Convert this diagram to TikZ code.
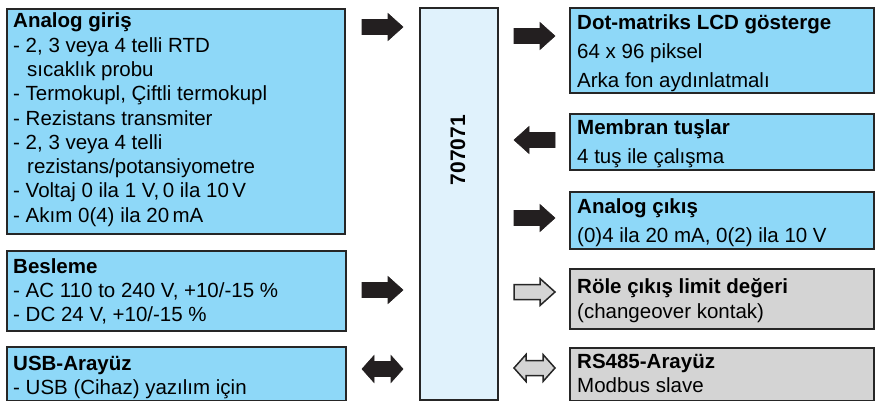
\documentclass[tikz,border=0pt]{standalone}
\usepackage{fontspec}
\setmainfont{Liberation Sans}
\begin{document}
\begin{tikzpicture}[x=1pt,y=-1pt]
\definecolor{boxblue}{HTML}{8ED8F8}
\definecolor{boxlight}{HTML}{E0F2FC}
\definecolor{boxgray}{HTML}{D4D4D4}
\definecolor{edge}{HTML}{262626}
\definecolor{arrowfill}{HTML}{231F20}
\tikzset{
  panel/.style={draw=edge,line width=2pt,inner sep=0pt,anchor=north west},
  bluebox/.style={panel,fill=boxblue},
  graybox/.style={panel,fill=boxgray},
  corebox/.style={panel,fill=boxlight},
  txt/.style={inner sep=0pt,anchor=base west,font=\fontsize{20.5}{24}\selectfont},
  ttl/.style={txt,font=\fontsize{20.5}{24}\selectfont\bfseries},
  solidarrow/.style={fill=arrowfill,draw=arrowfill,line width=0.6pt,line join=miter},
  hollowarrow/.style={fill=boxgray,draw=edge,line width=1.5pt,line join=miter},
  pics/rarrow/.style={code={
    \path[pic actions] (0,-7.5) -- (26,-7.5) -- (26,-13.5) -- (41,0) -- (26,13.5) -- (26,7.5) -- (0,7.5) -- cycle;}},
  pics/larrow/.style={code={
    \path[pic actions] (0,-7.5) -- (-26,-7.5) -- (-26,-13.5) -- (-41,0) -- (-26,13.5) -- (-26,7.5) -- (0,7.5) -- cycle;}},
  pics/darrow/.style={code={
    \path[pic actions] (0,0) -- (12,-13.5) -- (12,-7.5) -- (29,-7.5) -- (29,-13.5) -- (41,0) -- (29,13.5) -- (29,7.5) -- (12,7.5) -- (12,13.5) -- cycle;}}
}
\useasboundingbox (0,0) rectangle (875,401);

% left boxes
\node[bluebox,minimum width=338pt,minimum height=225pt] (ana) at (6,8) {};
\node[bluebox,minimum width=339pt,minimum height=80pt] (bes) at (6,250) {};
\node[bluebox,minimum width=339pt,minimum height=54pt] (usb) at (6,346) {};
% centre box
\node[corebox,minimum width=78pt,minimum height=392pt] (core) at (419,7) {};
\node[inner sep=0pt,rotate=90,font=\fontsize{21}{24}\selectfont\bfseries] (coretxt) at (458,150) {707071};
% right boxes
\node[bluebox,minimum width=304pt,minimum height=85pt] (lcd) at (569,7) {};
\node[bluebox,minimum width=304pt,minimum height=56pt] (mem) at (569,113) {};
\node[bluebox,minimum width=304pt,minimum height=57pt] (aout) at (569,191) {};
\node[graybox,minimum width=304pt,minimum height=60pt] (rel) at (569,268) {};
\node[graybox,minimum width=304pt,minimum height=53pt] (rs) at (569,347) {};

% left texts
\node[ttl] (a0) at (13,28) {Analog giriş};
\node[txt] (a1) at (13,52.25) {- 2, 3 veya 4 telli RTD};
\node[txt] (a2) at (27,76.5) {sıcaklık probu};
\node[txt] (a3) at (13,100.75) {- Termokupl, Çiftli termokupl};
\node[txt] (a4) at (13,125) {- Rezistans transmiter};
\node[txt] (a5) at (13,149.25) {- 2, 3 veya 4 telli};
\node[txt] (a6) at (27,173.5) {rezistans/potansiyometre};
\node[txt] (a7) at (13,197.75) {- Voltaj 0 ila 1 V,\,0 ila 10\,V};
\node[txt] (a8) at (13,222) {- Akım 0(4) ila 20\,mA};

\node[ttl] (b0) at (13,273) {Besleme};
\node[txt] (b1) at (13,297) {- AC 110 to 240 V, +10/-15 \%};
\node[txt] (b2) at (13,321) {- DC 24 V, +10/-15 \%};

\node[ttl] (u0) at (13,370) {USB-Arayüz};
\node[txt] (u1) at (13,394) {- USB (Cihaz) yazılım için};

% right texts
\node[ttl] (l0) at (577,30) {Dot-matriks LCD gösterge};
\node[txt] (l1) at (577,59) {64 x 96 piksel};
\node[txt] (l2) at (577,88) {Arka fon aydınlatmalı};

\node[ttl] (m0) at (577,135) {Membran tuşlar};
\node[txt] (m1) at (577,163) {4 tuş ile çalışma};

\node[ttl] (o0) at (577,213) {Analog çıkış};
\node[txt] (o1) at (577,242) {(0)4 ila 20 mA, 0(2) ila 10 V};

\node[ttl] (r0) at (577,293) {Röle çıkış limit değeri};
\node[txt] (r1) at (577,318) {(changeover kontak)};

\node[ttl] (s0) at (577,368) {RS485-Arayüz};
\node[txt] (s1) at (577,392) {Modbus slave};

% arrows
\pic[solidarrow] at (362,27) {rarrow};
\pic[solidarrow] at (362,290) {rarrow};
\pic[solidarrow] at (362,369) {darrow};
\pic[solidarrow] at (514,36) {rarrow};
\pic[solidarrow] at (555,140) {larrow};
\pic[solidarrow] at (514,218) {rarrow};
\pic[hollowarrow] at (514,292) {rarrow};
\pic[hollowarrow] at (514,368) {darrow};
\end{tikzpicture}
\end{document}
